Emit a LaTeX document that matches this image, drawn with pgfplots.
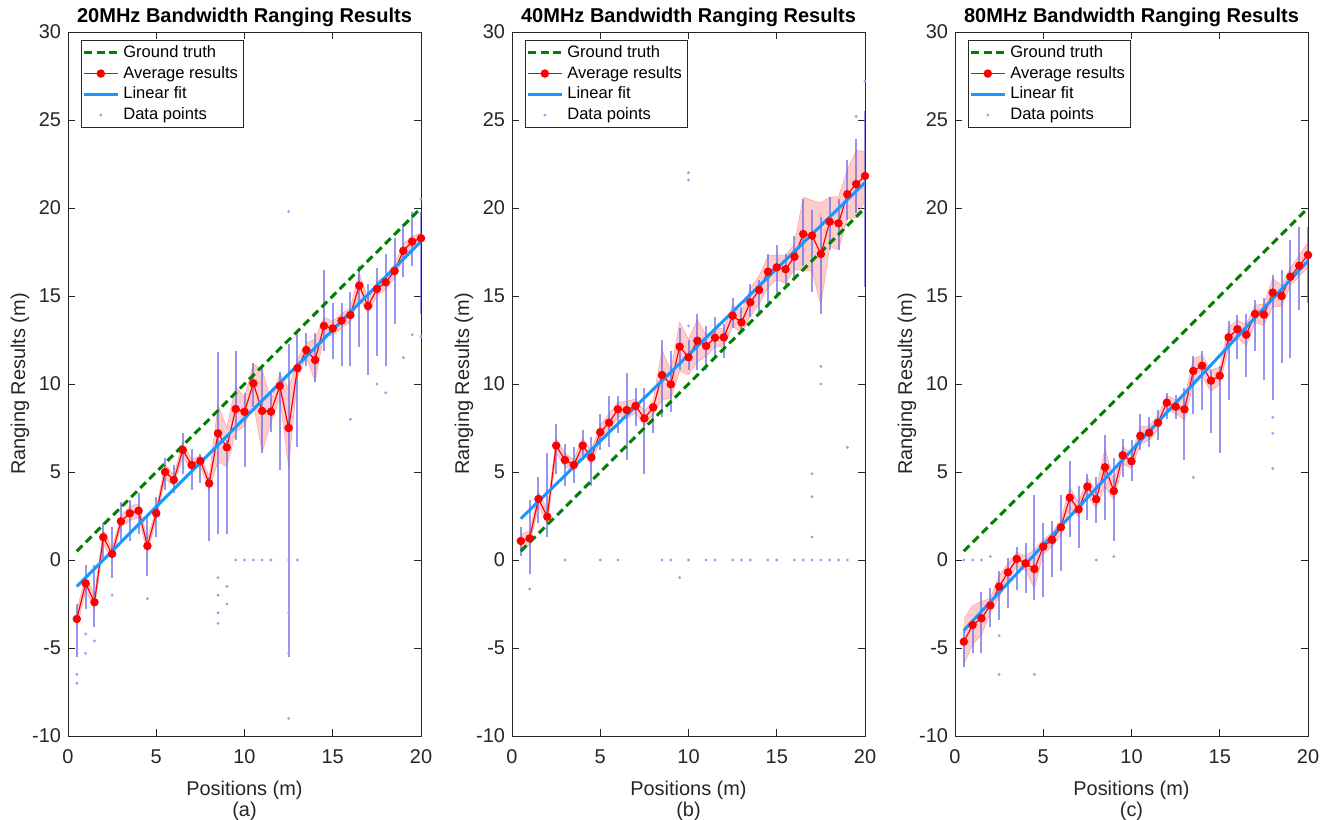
\documentclass[border=0pt]{standalone}
\usepackage{pgfplots}
\pgfplotsset{compat=1.18}
\usepackage{pgfplotstable}
\usepgfplotslibrary{fillbetween}
\usepackage{fontspec}
\setmainfont{Liberation Sans}
\definecolor{gt}{RGB}{0,128,0}
\definecolor{fitc}{RGB}{25,150,255}
\definecolor{ptc}{RGB}{105,105,235}
\definecolor{axc}{RGB}{38,38,38}

% x = position, m = average, bw = band half width, lo/hi = dense data streak
\pgfplotstableread{
x m bw lo hi
0.5 -3.35 0.5 -5.5 -2.5
1.0 -1.33 0.4 -2.8 -0.3
1.5 -2.4 0.4 -3.8 -0.3
2.0 1.3 0.4 0.1 2.1
2.5 0.35 0.3 -1.0 1.9
3.0 2.2 0.3 1.0 3.3
3.5 2.65 0.4 1.1 3.4
4.0 2.8 0.4 1.5 3.8
4.5 0.8 0.4 -0.9 2.5
5.0 2.65 0.3 1.3 3.6
5.5 5.0 0.4 4.0 5.8
6.0 4.55 0.3 3.8 5.4
6.5 6.25 0.4 4.9 7.2
7.0 5.4 0.3 4.0 6.3
7.5 5.63 0.3 4.4 6.0
8.0 4.35 0.4 1.1 4.7
8.5 7.2 1.6 1.5 11.8
9.0 6.4 1.1 1.5 6.8
9.5 8.58 1.3 6.8 11.9
10.0 8.42 0.8 5.3 9.5
10.5 10.04 1.1 8.7 11.2
11.0 8.47 2.35 6.1 11.0
11.5 8.43 0.6 7.3 9.5
12.0 9.89 0.7 5.1 10.7
12.5 7.5 2.2 -5.5 12.3
13.0 10.9 0.5 6.4 12.9
13.5 11.93 0.4 11.0 12.9
14.0 11.36 1.2 10.1 12.9
14.5 13.3 0.5 11.9 16.5
15.0 13.16 0.4 11.4 14.6
15.5 13.6 0.4 11.0 14.6
16.0 13.92 0.4 11.0 15.2
16.5 15.59 0.7 12.1 16.7
17.0 14.43 0.4 10.5 15.7
17.5 15.4 0.4 11.6 16.6
18.0 15.78 0.4 11.0 17.4
18.5 16.42 0.4 13.4 18.3
19.0 17.57 0.4 16.1 19.1
19.5 18.09 0.3 16.7 19.8
20.0 18.28 0.3 14.0 19.8
}\dataA

\pgfplotstableread{
x m bw lo hi
0.5 1.08 0.4 0.2 1.9
1.0 1.23 0.4 -0.8 3.4
1.5 3.47 0.4 2.1 4.7
2.0 2.46 0.4 1.3 6.1
2.5 6.5 0.4 4.9 7.7
3.0 5.68 0.4 4.2 6.6
3.5 5.4 0.3 4.4 6.4
4.0 6.5 0.4 5.7 7.4
4.5 5.83 0.4 4.2 7.0
5.0 7.26 0.4 6.25 8.3
5.5 7.8 0.5 6.4 9.3
6.0 8.56 0.4 7.2 9.3
6.5 8.52 0.5 5.7 10.6
7.0 8.75 0.4 7.6 9.8
7.5 8.05 0.4 4.9 9.8
8.0 8.67 0.4 7.2 8.7
8.5 10.51 1.4 8.1 12.5
9.0 9.98 0.8 8.4 11.9
9.5 12.12 1.4 10.8 13.2
10.0 11.52 1.0 10.8 12.5
10.5 12.46 1.2 10.8 14.0
11.0 12.16 0.6 10.8 13.3
11.5 12.63 0.5 11.5 13.8
12.0 12.65 0.5 11.5 13.4
12.5 13.88 0.6 13.2 14.9
13.0 13.5 0.6 12.9 14.4
13.5 14.64 0.8 13.8 15.7
14.0 15.34 0.8 14.0 15.9
14.5 16.38 0.9 14.4 17.4
15.0 16.63 0.7 14.9 17.9
15.5 16.52 0.8 15.5 17.4
16.0 17.23 0.7 16.1 18.4
16.5 18.52 2.1 16.7 20.5
17.0 18.43 2.0 15.2 19.9
17.5 17.39 2.9 14.0 19.5
18.0 19.22 1.4 17.6 20.6
18.5 19.13 1.5 17.6 20.5
19.0 20.78 1.4 19.3 22.7
19.5 21.36 1.9 19.7 23.9
20.0 21.82 1.4 15.5 25.5
}\dataB

\pgfplotstableread{
x m bw lo hi
0.5 -4.64 1.3 -6.1 -4.0
1.0 -3.69 1.1 -5.3 -3.6
1.5 -3.31 0.95 -5.3 -1.8
2.0 -2.58 0.4 -3.8 -1.6
2.5 -1.51 0.6 -3.4 -0.6
3.0 -0.7 0.5 -2.7 0.1
3.5 0.06 0.4 -1.7 0.75
4.0 -0.19 0.4 -1.9 0.95
4.5 -0.51 1.1 -2.3 3.7
5.0 0.76 0.4 -2.1 2.1
5.5 1.14 0.4 -0.95 2.2
6.0 1.86 0.4 -0.6 3.7
6.5 3.54 0.6 1.3 5.6
7.0 2.88 0.4 0.7 4.2
7.5 4.17 0.5 2.3 4.9
8.0 3.45 0.5 2.1 4.7
8.5 5.27 1.1 2.3 7.1
9.0 3.92 0.5 1.1 5.8
9.5 5.95 0.5 4.7 6.9
10.0 5.61 0.4 4.5 6.8
10.5 7.06 0.5 6.25 8.3
11.0 7.23 0.4 6.4 8.1
11.5 7.8 0.4 6.8 8.5
12.0 8.94 0.4 8.0 9.5
12.5 8.71 0.4 8.0 9.4
13.0 8.56 0.6 5.7 9.8
13.5 10.74 0.7 8.3 11.6
14.0 11.04 0.6 8.5 11.9
14.5 10.19 0.6 7.2 10.8
15.0 10.47 0.5 6.1 11.0
15.5 12.65 0.6 9.1 13.6
16.0 13.11 0.5 11.4 13.9
16.5 12.8 0.6 10.4 14.0
17.0 13.98 0.5 11.9 14.8
17.5 13.94 0.6 10.2 14.9
18.0 15.19 0.8 9.1 16.2
18.5 15.0 0.6 11.2 16.5
19.0 16.1 0.5 11.5 18.2
19.5 16.72 0.6 14.2 18.9
20.0 17.33 0.7 14.6 18.9
}\dataC

\pgfplotsset{
  rangeax/.style={
    scale only axis, width=176.5bp, height=352bp,
    anchor=south west,
    xmin=0, xmax=20, ymin=-10, ymax=30,
    xtick={0,5,...,20}, ytick={-10,-5,...,30},
    tick align=inside, major tick length=3.5bp,
    axis line style={axc, line width=0.4bp},
    every tick/.style={axc, line width=0.4bp},
    tick label style={font=\fontsize{10}{12}\selectfont, text=axc},
    xticklabel style={yshift=-3.5bp},
    /pgf/number format/assume math mode=true,
    ylabel={Ranging Results (m)},
    label style={font=\fontsize{10}{10.5}\selectfont, text=axc},
    xlabel style={align=center, yshift=-1.5bp},
    ylabel style={at={(axis description cs:-0.136,0.5)}, anchor=center},
    every axis title shift=0pt,
    title style={font=\bfseries\fontsize{10.05}{12}\selectfont, inner sep=2.5bp},
    legend style={at={(0.036,0.989)}, anchor=north west,
      font=\fontsize{8.3}{9.5}\selectfont, draw=axc, line width=0.4bp,
      inner sep=0.6bp, row sep=-1.1bp},
    legend cell align=left,
  },
  gtstyle/.style={gt, line width=1.5bp, dash pattern=on 4bp off 2.4bp},
  avgstyle/.style={red, line width=0.6bp, mark=*, mark size=1.8bp, mark options={solid, fill=red, draw=red}},
  fitstyle/.style={fitc, line width=1.5bp},
  ptstyle/.style={ptc!65, only marks, mark=*, mark size=0.5bp, mark options={draw=none, fill=ptc!65}},
}

\newcommand{\drawseries}[1]{%
  \addplot[name path=up, draw=red!35, line width=0.3bp, forget plot] table[x=x, y expr=\thisrow{m}+\thisrow{bw}] {#1};
  \addplot[name path=dn, draw=red!35, line width=0.3bp, forget plot] table[x=x, y expr=\thisrow{m}-\thisrow{bw}] {#1};
  \addplot[fill=red, fill opacity=0.2, draw=none, forget plot] fill between[of=up and dn];
  \addplot[draw=none, mark=none, forget plot,
    error bars/.cd, y dir=plus, y explicit,
    error bar style={draw=ptc, line width=1bp, opacity=0.7}, error mark=none]
    table[x=x, y=lo, y error expr=\thisrow{hi}-\thisrow{lo}] {#1};
}
\newcommand{\legendimages}{%
  \addlegendimage{gtstyle}\addlegendentry{Ground truth}
  \addlegendimage{avgstyle}\addlegendentry{Average results}
  \addlegendimage{fitstyle}\addlegendentry{Linear fit}
  \addlegendimage{ptstyle}\addlegendentry{Data points}
}

\begin{document}
\begin{tikzpicture}

% ---------- (a) ----------
\begin{axis}[rangeax, at={(34bp,42bp)},
  title={20MHz Bandwidth Ranging Results},
  xlabel={Positions (m)\\(a)}]
\legendimages
\drawseries{\dataA}
\addplot[ptstyle, forget plot] coordinates {
(0.5,-6.5) (0.5,-7.0) (1.0,-4.2) (1.0,-5.3) (1.5,-4.6) (2.5,-2.0) (4.5,-2.2)
(8.5,-1.0) (8.5,-2.0) (8.5,-3.0) (8.5,-3.6) (9.0,-2.5) (9.0,-1.5)
(9.5,0) (10,0) (10.5,0) (11,0) (11.5,0) (12.5,0) (13,0)
(12.5,-3.0) (12.5,-5.3) (12.5,-9.0) (12.5,19.8)
(16,8.0) (17.5,10.0) (18,9.5) (19,11.5) (19.5,12.8) (20,12.7) (20,20.5)
};
\addplot[gtstyle, forget plot] coordinates {(0.5,0.5) (20,20)};
\addplot[avgstyle, forget plot] table[x=x, y=m] {\dataA};
\addplot[fitstyle, forget plot] coordinates {(0.5,-1.5) (20,18.1)};
\end{axis}

% ---------- (b) ----------
\begin{axis}[rangeax, at={(256bp,42bp)},
  title={40MHz Bandwidth Ranging Results},
  xlabel={Positions (m)\\(b)}]
\legendimages
\drawseries{\dataB}
\addplot[ptstyle, forget plot] coordinates {
(3,0) (5,0) (6,0) (8.5,0) (9,0) (10,0) (11,0) (11.5,0) (12.5,0) (13,0) (13.5,0)
(14.5,0) (15,0) (16,0) (16.5,0) (17,0) (17.5,0) (18,0) (18.5,0) (19,0)
(1,-1.65) (9.5,-1.0) (10,21.6) (10,22.0) (10,13.3)
(17,4.9) (17,3.6) (17,1.3) (19,6.4) (17.5,11.0) (17.5,10.0)
(19.5,25.2) (20,27.2)
};
\addplot[gtstyle, forget plot] coordinates {(0.5,0.5) (20,20)};
\addplot[avgstyle, forget plot] table[x=x, y=m] {\dataB};
\addplot[fitstyle, forget plot] coordinates {(0.5,2.35) (20,21.45)};
\end{axis}

% ---------- (c) ----------
\begin{axis}[rangeax, at={(477.5bp,42bp)},
  title={80MHz Bandwidth Ranging Results},
  xlabel={Positions (m)\\(c)}]
\legendimages
\drawseries{\dataC}
\addplot[ptstyle, forget plot] coordinates {
(0.5,0) (1,0) (1.5,0) (2,0.2) (2.5,-4.3) (2.5,-6.5) (8,0) (9,0.2)
(18,5.2) (18,7.2) (18,8.1) (13.5,4.7) (4.5,-6.5)
};
\addplot[gtstyle, forget plot] coordinates {(0.5,0.5) (20,20)};
\addplot[avgstyle, forget plot] table[x=x, y=m] {\dataC};
\addplot[fitstyle, forget plot] coordinates {(0.5,-4.0) (20,17.0)};
\end{axis}

\pgfresetboundingbox
\useasboundingbox (0,0) rectangle (667bp,410bp);
\end{tikzpicture}
\end{document}
